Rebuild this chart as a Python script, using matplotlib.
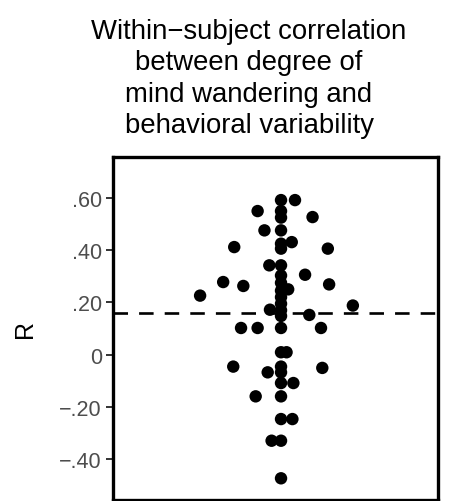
import matplotlib
matplotlib.use("Agg")
import matplotlib.pyplot as plt

plt.rcParams['font.family'] = ['Liberation Sans', 'DejaVu Sans']

# Within-subject correlations (R) and horizontal swarm offsets
r_values = [0.592, 0.592, 0.550, 0.550, 0.525, 0.527, 0.476, 0.476, 0.431, 0.425,
            0.406, 0.412, 0.406, 0.342, 0.342, 0.303, 0.306, 0.278, 0.263, 0.269,
            0.275, 0.245, 0.250, 0.220, 0.226, 0.188, 0.195, 0.172, 0.170, 0.148,
            0.152, 0.102, 0.102, 0.102, 0.102, 0.009, 0.009, -0.046, -0.051, -0.046,
            -0.068, -0.068, -0.109, -0.109, -0.160, -0.160, -0.247, -0.247, -0.330, -0.330,
            -0.474]
x_offsets = [0.017, 0.060, -0.055, 0.017, 0.017, 0.114, -0.034, 0.017, 0.050, 0.017,
             0.017, -0.127, 0.161, -0.019, 0.017, 0.017, 0.091, -0.161, -0.099, 0.165,
             0.017, 0.017, 0.039, 0.017, -0.232, 0.238, 0.017, -0.017, 0.017, 0.017,
             0.104, -0.106, -0.055, 0.017, 0.140, 0.017, 0.034, -0.130, 0.144, 0.017,
             0.017, -0.024, 0.017, 0.055, -0.061, 0.017, 0.017, 0.052, -0.012, 0.017,
             0.017]
category_pos = 1.0
mean_r = 0.159

yticks = [0.6, 0.4, 0.2, 0.0, -0.2, -0.4]
ytick_labels = ['.60', '.40', '.20', '0', '\u2212.20', '\u2212.40']
title_lines = ['Within\u2212subject correlation', 'between degree of',
               'mind wandering and', 'behavioral variability']

W, H = 455, 502
fig = plt.figure(figsize=(W / 100, H / 100), dpi=100)
ax = fig.add_axes([113 / W, 1.3 / H, (438 - 113) / W, (500.7 - 158.3) / H])

xs = [category_pos + o for o in x_offsets]
ax.scatter(xs, r_values, s=80, color='black', edgecolors='none', zorder=3)
ax.axhline(mean_r, color='black', lw=1.9, linestyle=(0, (5.5, 4.2)), zorder=2)

ax.set_xlim(0.5, 1.5)
ax.set_ylim(-0.556, 0.756)
ax.set_xticks([])
ax.set_yticks(yticks)
ax.set_yticklabels(ytick_labels)
ax.tick_params(axis='y', length=5, width=1.4, color='#333333', labelcolor='#4D4D4D',
               labelsize=15.5, pad=3)
for sp in ax.spines.values():
    sp.set_linewidth(2.4)
    sp.set_color('black')
ax.set_ylabel('R', fontsize=18, labelpad=16)

for i, line in enumerate(title_lines):
    fig.text(249 / W, 1 - (39 + 31.3 * i) / H, line, ha='center', va='baseline',
             fontsize=19.8)

fig.savefig('out.png', dpi=100)
